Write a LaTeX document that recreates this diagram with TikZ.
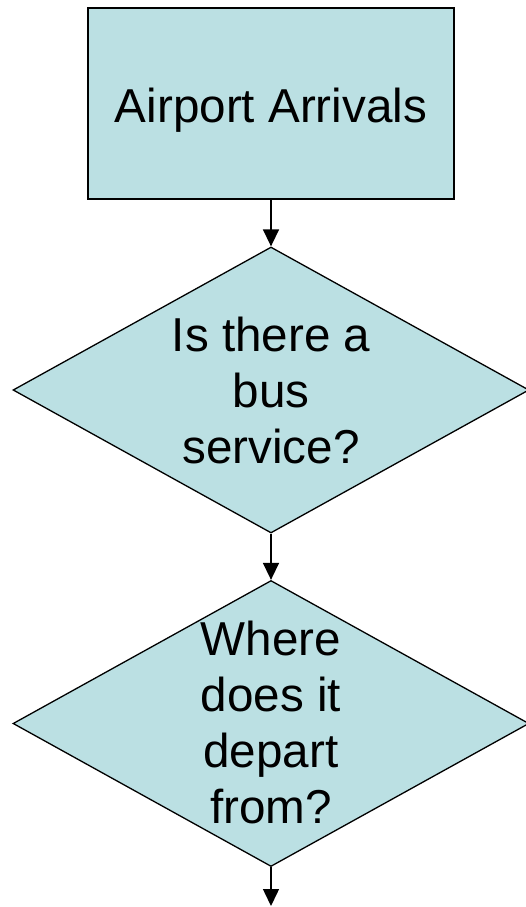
\documentclass[tikz,border=0pt]{standalone}
\usepackage{fontspec}
\setmainfont{Liberation Sans}
\usetikzlibrary{shapes.geometric,arrows.meta}
\definecolor{boxfill}{HTML}{BBE0E3}
\tikzset{
  boxstyle/.style={draw=black, line width=1.3pt, fill=boxfill, rectangle, inner sep=0pt, minimum width=366pt, minimum height=191pt},
  decstyle/.style={draw=black, line width=1.3pt, fill=boxfill, diamond, inner sep=0pt, minimum width=516pt, minimum height=286pt},
  txt/.style={align=center, inner sep=0pt, font=\fontsize{47.6}{56.3}\selectfont},
  conn/.style={line width=1.5pt, -{Triangle[width=16pt,length=17pt]}}
}
\begin{document}
\begin{tikzpicture}[x=1pt,y=-1pt]
\useasboundingbox (0,0) rectangle (525,907);
\node[boxstyle] (arr) at (271,103.5) {};
\node[txt] (arrt) at (271,110.5) {Airport Arrivals};
\node[decstyle] (bus) at (271,390) {};
\node[txt] (bust) at (271,390.5) {Is there a\\bus\\service?};
\node[decstyle] (dep) at (271,723.5) {};
\node[txt] (dept) at (271,722.5) {Where\\does it\\depart\\from?};
\coordinate (end) at (271,906);
\draw[conn] (arr.south) -- (bus.north);
\draw[conn] (bus.south) -- (dep.north);
\draw[conn] (dep.south) -- (end);
\end{tikzpicture}
\end{document}
